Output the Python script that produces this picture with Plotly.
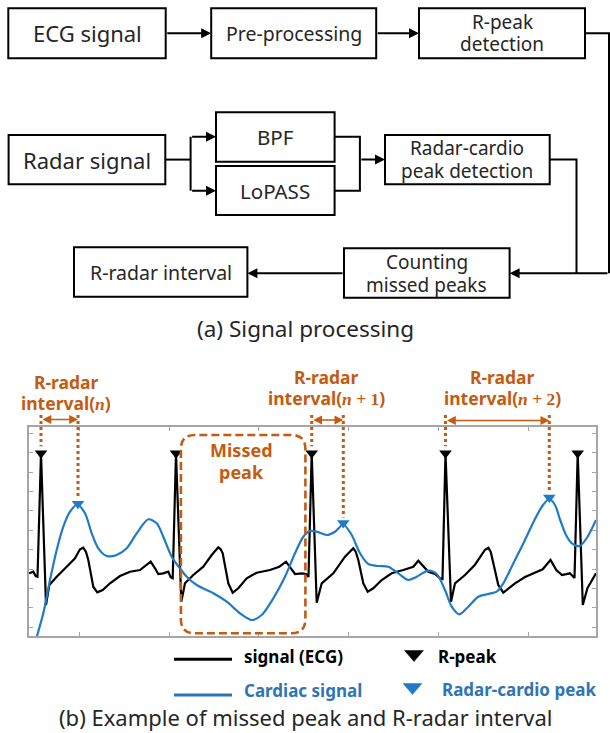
import numpy as np
import plotly.graph_objects as go

W, H = 610, 733

# ---------------- data ----------------
# ECG signal: sample index, amplitude (a.u.)
ecg_n = [0, 4.3, 6.7, 8.5, 12, 17, 20.3, 27.7, 37.7, 46, 51, 54.3, 57, 59.3, 64.3, 68.3, 73.7,
         81, 91, 101, 111, 117.7, 121.7, 126, 129.3, 134.3, 139.3, 141.7, 143.7, 147, 152.3,
         156, 164.3, 174.3, 182.7, 189.3, 191.7, 193.7, 199.3, 203.7, 209.3, 217.7, 227.7, 241,
         250.3, 257, 261, 266, 272.7, 277, 279.5, 282.7, 287.7, 292.7, 304.3, 314.3, 316,
         324.3, 326.7, 329.3, 334.3, 338.7, 344.3, 352.7, 362.7, 374.3, 384.3, 389.3, 394.3, 399.3,
         406, 411, 413.5, 416.5, 422, 426, 436, 446, 456, 459.3, 461.7, 464.3, 469.3, 474.3, 486,
         496, 504, 513.7, 521.5, 527.3, 533, 540.9, 545.5, 548.7, 553.8, 558.4, 567]
ecg_amp = [62.7, 64.3, 60, 59.3, 182.7, 31, 51, 59.3, 69.3, 77.7, 86.7, 88.3, 84, 76, 49.3, 43.7, 46,
           52.7, 60, 64.3, 66, 71, 74.3, 67.7, 62, 62.7, 64.3, 58.7, 57.7, 182.7, 34.3,
           52.7, 61, 69.3, 81, 88.7, 86.7, 82.7, 52.7, 43.3, 47.7, 57.7, 63.3, 66,
           69.3, 74.3, 69.3, 62, 62.7, 62, 59, 182.7, 33.3, 52.7, 62.7, 76, 79.3,
           87.7, 84.3, 76, 52.7, 44.3, 47.7, 56, 62.7, 66, 69.3, 75.3, 69.3, 64.3,
           62, 57.7, 57, 182.7, 34.3, 52.7, 61, 71.3, 86.3, 88.3, 84.3, 72.7, 51, 43.3, 52.7,
           59, 62.7, 66.7, 76, 66, 61, 62.7, 58, 182.7, 31, 47.7, 62.7]

# Cardiac (radar) signal: sample index, amplitude (a.u.)
cardiac_n = [5, 8, 14.3, 21, 27.7, 34.3, 41, 48.3, 56, 62.7, 69.3, 77.7, 87.7, 97.7, 107.7,
             119.3, 127.7, 134.3, 142.7, 151, 157.7, 167.7, 184.3, 197.7, 211, 222.7, 232.7,
             244.3, 256, 266, 274.3, 281, 287.7, 297.7, 306, 314.3, 322.7, 331, 339.3, 349.3,
             359.3, 369.3, 379.3, 387.7, 399.3, 407.7, 416, 422.7, 430.3, 439.3, 449.3, 459.3,
             467.7, 474.3, 482.7, 486, 496, 506, 514, 520.3, 526, 531.2, 537, 542.9, 550.7,
             558.4, 567]
cardiac_amp = [-10, 0, 22.7, 56, 86, 109.3, 124.3, 131.5, 122.7, 102.7, 87.7, 80, 81, 87.7, 102.7,
               116.7, 112.7, 99.3, 79.3, 67.5, 59.3, 51, 42.7, 34.3, 22.7, 16, 21,
               37.7, 59.3, 82.7, 99.3, 105, 104.3, 101, 104.3, 111.5, 101, 82.7, 72, 70,
               69.3, 62.7, 56, 59.3, 65.3, 62, 46, 29.3, 21.7, 29.3, 39.3, 42,
               44.3, 52.7, 69.3, 76, 96, 117, 131, 137, 131, 116, 101, 92.7, 90,
               99, 116]

rpeak_n = [12, 147, 282.7, 416.5, 548.7]        # R-peaks (ECG)
radar_peak_n = [49, 314.3, 520.3]              # radar-cardio peaks
interval_pairs = [(0, 0), (2, 1), (3, 2)]      # (R-peak idx, radar peak idx)
interval_suffix = ["", " + 1", " + 2"]

legend_labels = ["signal (ECG)", "R-peak", "Cardiac signal", "Radar-cardio peak"]

# ---------------- styles ----------------
ORANGE = "#C55A11"
BLUE = "#1F7BC8"
BLUE_TXT = "#2E75B6"
GREY = "#A6A6A6"
FONT = "Noto Sans"
TXT = "#262626"

XR = [0, 567]
YR = [0, 209]
XD = [29 / W, 596 / W]
YD = [1 - 636 / H, 1 - 427 / H]


def X(px):
    return px / W


def Y(py):
    return 1 - py / H


def amp2paper(a):
    return YD[0] + (a - YR[0]) / (YR[1] - YR[0]) * (YD[1] - YD[0])


fig = go.Figure()

fig.add_trace(go.Scatter(x=ecg_n, y=ecg_amp, mode="lines",
                         line=dict(color="black", width=2.2), hoverinfo="skip"))
fig.add_trace(go.Scatter(x=cardiac_n, y=cardiac_amp, mode="lines",
                         line=dict(color=BLUE, width=2.2, shape="spline", smoothing=0.8),
                         hoverinfo="skip"))

r_amp = np.interp(rpeak_n, ecg_n, ecg_amp)
b_amp = np.interp(radar_peak_n, cardiac_n, cardiac_amp)
fig.add_trace(go.Scatter(x=rpeak_n, y=r_amp, mode="markers",
                         marker=dict(symbol="triangle-down", size=11, color="black"),
                         hoverinfo="skip"))
fig.add_trace(go.Scatter(x=radar_peak_n, y=b_amp + 1.5, mode="markers",
                         marker=dict(symbol="triangle-down", size=11, color=BLUE),
                         hoverinfo="skip"))

shapes = []
ann = []

# ---------------- flowchart (a) ----------------
boxes = [
    (8.3, 8.3, 165.7, 58.3),     # ECG signal
    (211.2, 8.3, 376.2, 58.3),   # Pre-processing
    (419, 8.3, 585, 58.3),       # R-peak detection
    (8.6, 135, 165.3, 184.3),    # Radar signal
    (216, 112.3, 334.6, 161.7),  # BPF
    (216, 166, 334.6, 215),      # LoPASS
    (385, 135, 549.7, 184.3),    # Radar-cardio peak detection
    (344, 248.3, 509.6, 297.7),  # Counting missed peaks
    (74, 247.3, 247.4, 296.7),   # R-radar interval
]
for (x0, y0, x1, y1) in boxes:
    shapes.append(dict(type="rect", xref="paper", yref="paper",
                       x0=X(x0), x1=X(x1), y0=Y(y1), y1=Y(y0),
                       line=dict(color="black", width=2), fillcolor="white", layer="above"))

texts = [
    ("ECG signal", 87, 33.3, 22),
    ("Pre-processing", 294, 33.3, 19.5),
    ("R-peak", 502, 22, 19),
    ("detection", 502, 43.5, 19),
    ("Radar signal", 87, 159.6, 22),
    ("BPF", 275.3, 137, 20.5),
    ("LoPASS", 275.3, 191, 20.5),
    ("Radar-cardio", 467.4, 148, 19),
    ("peak detection", 467.4, 171, 19),
    ("Counting", 426.8, 262, 19),
    ("missed peaks", 426.8, 285.5, 19),
    ("R-radar interval", 160.7, 272, 19.5),
    ("(a) Signal processing", 305.4, 328, 22.5),
    ("(b) Example of missed peak and R-radar interval", 305, 717, 22),
]
for (t, px, py, fs) in texts:
    ann.append(dict(text=t, x=X(px), y=Y(py), xref="paper", yref="paper",
                    xanchor="center", yanchor="middle", showarrow=False,
                    font=dict(family=FONT, size=fs, color=TXT)))


def path(points):
    s = "M " + " L ".join(f"{X(a):.5f},{Y(b):.5f}" for a, b in points)
    return s


lines = [
    [(585, 33.3), (609, 33.3), (609, 273.3)],
    [(549.7, 159.6), (576.5, 159.6), (576.5, 273.3)],
    [(165.3, 159.6), (190.6, 159.6)],
    [(190.6, 136.7), (190.6, 190.7)],
    [(334.6, 136.7), (359.9, 136.7), (359.9, 190.7), (334.6, 190.7)],
]
for pts in lines:
    shapes.append(dict(type="path", xref="paper", yref="paper", path=path(pts),
                       line=dict(color="black", width=2)))

arrows = [  # (tail, head)
    ((165.7, 33.3), (211.2, 33.3)),
    ((376.2, 33.3), (419, 33.3)),
    ((609, 273.3), (509.6, 273.3)),
    ((190.6, 136.7), (216, 136.7)),
    ((190.6, 190.7), (216, 190.7)),
    ((359.9, 159.6), (385, 159.6)),
    ((344, 273.3), (247.4, 273.3)),
]
for (tx, ty), (hx, hy) in arrows:
    ann.append(dict(text="", x=X(hx), y=Y(hy), xref="paper", yref="paper",
                    ax=tx - hx, ay=ty - hy, axref="pixel", ayref="pixel",
                    showarrow=True, arrowhead=2, arrowsize=1, arrowwidth=2,
                    arrowcolor="black", standoff=0, startstandoff=0))

# ---------------- signal plot annotations (b) ----------------
# Missed peak rounded dashed box (data coords)
bx0, bx1, by0, by1, r = 151.9, 276.4, 2.7, 201, 14
rr = (f"M {bx0+r},{by0} L {bx1-r},{by0} Q {bx1},{by0} {bx1},{by0+r} "
      f"L {bx1},{by1-r} Q {bx1},{by1} {bx1-r},{by1} L {bx0+r},{by1} "
      f"Q {bx0},{by1} {bx0},{by1-r} L {bx0},{by0+r} Q {bx0},{by0} {bx0+r},{by0} Z")
shapes.append(dict(type="path", xref="x", yref="y", path=rr,
                   line=dict(color=ORANGE, width=2.6, dash="8px,4px"), layer="above"))
ann.append(dict(text="<b>Missed</b>", x=X(241.7), y=Y(450), xref="paper", yref="paper",
                xanchor="center", yanchor="middle",
                showarrow=False, font=dict(family=FONT, size=18, color=ORANGE)))
ann.append(dict(text="<b>peak</b>", x=X(241.7), y=Y(471.5), xref="paper", yref="paper",
                xanchor="center", yanchor="middle",
                showarrow=False, font=dict(family=FONT, size=18, color=ORANGE)))

label_pos = [(66, 381.5, 403.3), (326, 376.5, 398.3), (502, 376.5, 398.3)]
arrow_py = [419.5, 420, 420.5]
for k, (ri, bi) in enumerate(interval_pairs):
    nR, nB = rpeak_n[ri], radar_peak_n[bi]
    for n_, a_ in ((nR, r_amp[ri]), (nB, b_amp[bi])):
        shapes.append(dict(type="line", xref="x", yref="paper", x0=n_, x1=n_,
                           y0=Y(415), y1=amp2paper(a_ + 7),
                           line=dict(color=ORANGE, width=3, dash="dot"), layer="above"))
    ann.append(dict(text="", x=nB, y=Y(arrow_py[k]), xref="x", yref="paper",
                    ax=nR, ay=0, axref="x", ayref="pixel", showarrow=True,
                    arrowhead=2, arrowside="end+start", arrowsize=1.1, arrowwidth=1.6,
                    arrowcolor=ORANGE, standoff=0, startstandoff=0))
    lx, ly1, ly2 = label_pos[k]
    ann.append(dict(text="<b>R-radar</b>", x=X(lx), y=Y(ly1), xref="paper", yref="paper",
                    xanchor="center", yanchor="middle",
                    showarrow=False, font=dict(family=FONT, size=17.5, color=ORANGE)))
    lab = ("<b>interval(</b><span style=\"font-family:'Liberation Serif'\"><b><i>n</i>"
           + interval_suffix[k] + "</b></span><b>)</b>")
    ann.append(dict(text=lab, x=X(lx), y=Y(ly2), xref="paper", yref="paper",
                    xanchor="center", yanchor="middle",
                    showarrow=False, font=dict(family=FONT, size=17.5, color=ORANGE)))

# ---------------- legend (manual) ----------------
leg = [
    ("line", "black", 659.3, 656, legend_labels[0], "black", 242),
    ("tri", "black", None, 656, legend_labels[1], "black", 435.7),
    ("line", BLUE_TXT, 695, 690, legend_labels[2], BLUE_TXT, 242),
    ("tri", BLUE, None, 689, legend_labels[3], BLUE_TXT, 440.4),
]
for kind, col, ly, ty, label, tcol, tx in leg:
    if kind == "line":
        shapes.append(dict(type="line", xref="paper", yref="paper", x0=X(174), x1=X(232),
                           y0=Y(ly), y1=Y(ly), line=dict(color=col, width=3)))
    else:
        cx = 414 if tcol == "black" else 412.5
        shapes.append(dict(type="path", xref="paper", yref="paper",
                           path=path([(cx - 9.5, ty - 5.5), (cx + 9.5, ty - 5.5), (cx, ty + 5.5)]) + " Z",
                           fillcolor=col, line=dict(color=col, width=0.5)))
    ann.append(dict(text=f"<b>{label}</b>", x=X(tx), y=Y(ty), xref="paper", yref="paper",
                    xanchor="left", yanchor="middle", showarrow=False,
                    font=dict(family=FONT, size=17, color=tcol)))

axis_common = dict(showline=True, linecolor=GREY, linewidth=1.5, mirror="ticks",
                   ticks="inside", ticklen=4, tickcolor=GREY, tickwidth=1.2,
                   showticklabels=False, showgrid=False, zeroline=False, fixedrange=True)

fig.update_layout(
    width=W, height=H, margin=dict(l=0, r=0, t=0, b=0, pad=0),
    paper_bgcolor="white", plot_bgcolor="white", showlegend=False,
    font=dict(family=FONT, color=TXT),
    xaxis=dict(domain=XD, range=XR, tick0=50.5, dtick=89.7, **axis_common),
    yaxis=dict(domain=YD, range=YR, tick0=8.7, dtick=19.4, **axis_common),
    shapes=shapes, annotations=ann,
)

fig.write_html("out.html", config={"displayModeBar": False},
               post_script="document.body.style.margin='0px';document.body.style.overflow='hidden';")
